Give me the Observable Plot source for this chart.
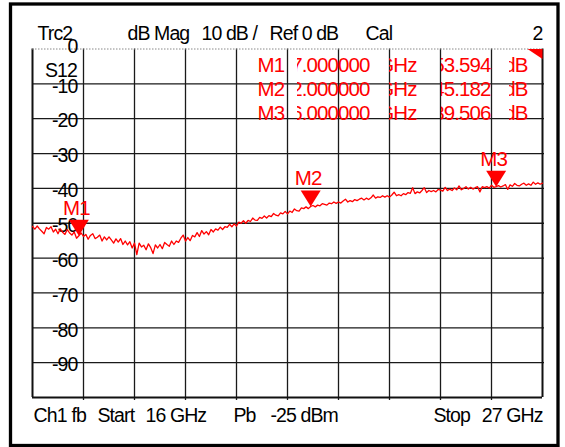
<!DOCTYPE html>
<html><head><meta charset="utf-8">
<script src="https://cdn.jsdelivr.net/npm/d3@7"></script>
<script src="https://cdn.jsdelivr.net/npm/@observablehq/plot@0.6"></script>
<style>
html,body{margin:0;padding:0;background:#fff;}
#chart{width:565px;height:447px;}
svg{display:block;}
</style></head><body><div id="chart"></div>
<script>
// ---- data ----
const startGHz = 16, stopGHz = 27;
const traceDb = [
-50.9,-51.7,-50.8,-51.6,-52.3,-53.0,-51.2,-51.7,-51.0,-52.5,-51.7,-53.0,-51.6,-52.6,-53.2,-51.8,-52.8,-53.4,-52.5,-54.3,
-53.594,-52.8,-53.8,-53.2,-54.6,-53.5,-53.0,-54.4,-54.0,-53.4,-55.1,-53.9,-54.8,-53.9,-54.8,-55.7,-54.5,-55.4,-54.4,-56.1,
-55.1,-56.2,-55.3,-57.1,-55.7,-59.0,-55.7,-56.8,-56.3,-57.6,-55.9,-57.0,-58.7,-56.2,-57.1,-56.1,-57.3,-55.5,-56.1,-56.6,
-55.1,-56.1,-55.1,-55.5,-54.3,-53.4,-55.1,-54.1,-55.0,-53.5,-53.9,-52.7,-53.8,-52.1,-53.1,-52.4,-53.3,-51.8,-52.5,-51.6,
-52.0,-51.1,-51.8,-51.0,-51.2,-50.3,-51.0,-50.2,-50.8,-49.7,-50.0,-49.3,-50.0,-49.2,-49.5,-48.5,-49.1,-49.2,-48.3,-48.6,
-47.9,-48.5,-47.8,-48.1,-47.2,-47.7,-47.9,-47.0,-47.3,-46.6,-47.3,-46.5,-46.9,-45.9,-46.4,-46.5,-45.6,-45.8,-45.3,-45.8,
-45.182,-44.9,-45.3,-44.8,-45.0,-44.4,-44.6,-44.8,-44.2,-44.4,-43.9,-44.3,-43.9,-44.2,-43.6,-43.1,-43.9,-43.5,-43.8,-43.2,
-43.5,-43.1,-42.8,-43.3,-42.8,-43.2,-42.7,-41.9,-42.8,-42.4,-42.6,-42.1,-42.5,-42.1,-42.5,-41.9,-41.1,-42.1,-41.8,-42.1,
-41.5,-41.8,-41.2,-41.4,-39.8,-41.5,-41.0,-41.3,-40.6,-39.8,-41.2,-40.6,-40.9,-40.6,-41.0,-40.3,-40.5,-40.8,-39.7,-40.6,
-40.2,-40.6,-39.9,-40.4,-39.3,-40.4,-40.0,-39.5,-40.2,-39.7,-40.2,-39.8,-39.5,-41.0,-39.5,-39.8,-39.5,-39.9,-39.1,-39.7,
-39.506,-39.2,-39.6,-39.3,-38.9,-40.3,-39.0,-39.4,-38.6,-39.1,-39.3,-38.8,-38.5,-39.1,-38.7,-39.1,-38.2,-38.8,-38.4,-38.8,
-38.5
];
const markerNames = ["M1", "M2", "M3"];
const markerGHz = [17, 22, 26];
const markerDb = [-53.594, -45.182, -39.506];
const markerFreqText = ["17.000000", "22.000000", "26.000000"];
const markerUnitText = ["GHz", "GHz", "GHz"];
const markerValText = ["-53.594", "-45.182", "-39.506"];
const markerDbUnit = ["dB", "dB", "dB"];
const yTickLabels = [0, -10, -20, -30, -40, -50, -60, -70, -80, -90];
const headerTexts = ["Trc2", "dB Mag", "10 dB /", "Ref 0 dB", "Cal", "2"];
const footerTexts = ["Ch1", "fb", "Start", "16 GHz", "Pb", "-25 dBm", "Stop", "27 GHz"];
const traceLabel = "S12";

// ---- layout ----
const W = 565, H = 447;
const mL = 32, mR = 23, mT = 48.5, mB = 50;
const RED = "#ff0000";
const FONT = "'Liberation Sans', Arial, Helvetica, sans-serif";
const FS = 19.5, FSM = 20.5;

const step = (stopGHz - startGHz) / (traceDb.length - 1);
const trace = traceDb.map((db, i) => ({f: startGHz + i * step, db}));
const markers = markerNames.map((name, i) => ({name, f: markerGHz[i], db: markerDb[i]}));
const nDiv = 10;
const xGrid = d3.range(nDiv + 1).map(k => startGHz + k * (stopGHz - startGHz) / nDiv);
const yGrid = d3.range(0, -101, -10);

// place a text label at a pixel position (baseline)
function label(str, px, py, opts = {}) {
  return Plot.text([str], {
    text: d => d,
    frameAnchor: "top-left",
    dx: px - mL, dy: py - mT,
    lineAnchor: "bottom",
    textAnchor: opts.anchor || "start",
    fill: opts.fill || "#000",
    fontSize: opts.fontSize || FS,
    fontFamily: FONT
  });
}

const downTriangle = {draw(ctx) { ctx.moveTo(0, 0); ctx.lineTo(-10, -16); ctx.lineTo(10, -16); ctx.closePath(); }};
const cornerWedge = {draw(ctx) { ctx.moveTo(-15, 0); ctx.lineTo(0, 0); ctx.lineTo(0, 10); ctx.closePath(); }};

const headerX = [37, 127, 201, 269, 365];
const footerX = [33, 71, 97, 145, 233, 270, 433];
const rowY = [71.7, 95.3, 119.2];

const marks = [
  // outer instrument frame
  Plot.frame({stroke: "#000", strokeWidth: 3.3, insetLeft: -22, insetTop: -45, insetRight: -15.5, insetBottom: -48}),
  // grid
  Plot.ruleX(xGrid.slice(1, -1), {stroke: "#1a1a1a", strokeWidth: 1.3, insetBottom: -3}),
  Plot.ruleY(yGrid.slice(1, -1), {stroke: "#1a1a1a", strokeWidth: 1.3, insetRight: -2}),
  Plot.ruleX([startGHz, stopGHz], {stroke: "#111", strokeWidth: 2}),
  Plot.ruleY([-100], {stroke: "#111", strokeWidth: 2}),
  Plot.ruleY([0], {stroke: "#888", strokeWidth: 1, strokeDasharray: "1.5,1.5"}),
  // y labels
  Plot.text(yTickLabels.slice(1), {y: d => d, text: d => String(d), frameAnchor: "left", dx: 45, dy: 2.5,
    textAnchor: "end", fill: "#000", fontSize: FS, fontFamily: FONT}),
  Plot.text(yTickLabels.slice(0, 1), {y: d => d, text: d => String(d), frameAnchor: "left", dx: 45, dy: -2,
    textAnchor: "end", fill: "#000", fontSize: FS, fontFamily: FONT}),
  label(traceLabel, 76.5, 76.7, {anchor: "end"}),
  // trace
  Plot.line(trace, {x: "f", y: "db", stroke: RED, strokeWidth: 1.3}),
  // markers
  Plot.dot(markers, {x: "f", y: "db", symbol: downTriangle, fill: RED}),
  Plot.text(markers, {x: "f", y: "db", text: "name", dy: -21, dx: -2.5, lineAnchor: "bottom",
    fill: RED, fontSize: FSM, fontFamily: FONT}),
  Plot.dot([0], {frameAnchor: "top-right", symbol: cornerWedge, fill: RED}),
  // header
  ...headerTexts.slice(0, 5).map((t, i) => label(t, headerX[i], 39.3)),
  label(headerTexts[5], 542, 39.3, {anchor: "end"}),
  // footer
  ...footerTexts.slice(0, 7).map((t, i) => label(t, footerX[i], 421)),
  label(footerTexts[7], 542, 421, {anchor: "end"}),
  // marker table
  ...markerNames.flatMap((m, i) => [
    label(m, 257, rowY[i], {fill: RED, fontSize: FSM}),
    label(markerFreqText[i], 369, rowY[i], {fill: RED, fontSize: FSM, anchor: "end"}),
    label(markerUnitText[i], 416, rowY[i], {fill: RED, fontSize: FSM, anchor: "end"}),
    label(markerValText[i], 490, rowY[i], {fill: RED, fontSize: FSM, anchor: "end"}),
    label(markerDbUnit[i], 527, rowY[i], {fill: RED, fontSize: FSM, anchor: "end"})
  ])
];

const plot = Plot.plot({
  width: W, height: H,
  marginLeft: mL, marginRight: mR, marginTop: mT, marginBottom: mB,
  x: {domain: [startGHz, stopGHz], axis: null},
  y: {domain: [-100, 0], axis: null},
  style: {fontFamily: FONT, background: "#fff", overflow: "visible"},
  marks
});
document.getElementById("chart").append(plot);

// condensed instrument lettering
d3.select(plot).selectAll("text").style("letter-spacing", "-0.9px");

// clip marker-table columns at their cell edges, like the analyzer display
const clipCols = [
  [new Set(markerFreqText), 297],
  [new Set(markerUnitText), 389],
  [new Set(markerValText), 441],
  [new Set(markerDbUnit), 509]
];
let defs = d3.select(plot).select("defs");
if (defs.empty()) defs = d3.select(plot).insert("defs", ":first-child");
let cid = 0;
d3.select(plot).selectAll("text").each(function () {
  const s = this.textContent;
  for (const [set, left] of clipCols) {
    if (set.has(s)) {
      const m = this.getCTM();
      const lx = (left - m.e) / m.a;
      const id = "tblclip" + (cid++);
      defs.append("clipPath").attr("id", id).attr("clipPathUnits", "userSpaceOnUse")
        .append("rect").attr("x", lx).attr("y", -200).attr("width", 400).attr("height", 400);
      this.setAttribute("clip-path", `url(#${id})`);
      break;
    }
  }
});
</script>
</body></html>
